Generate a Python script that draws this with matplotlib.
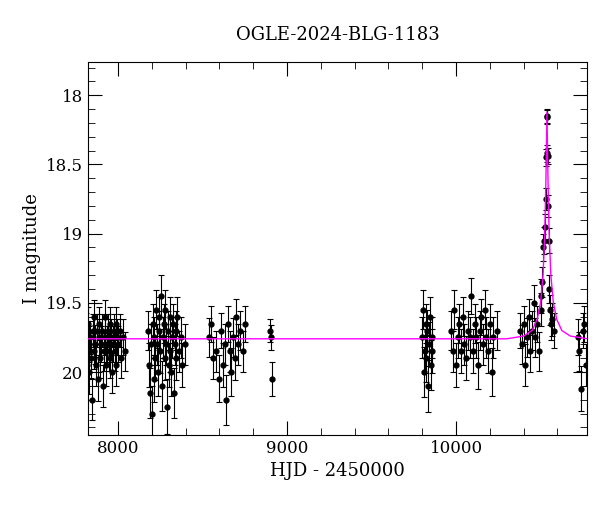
import matplotlib
matplotlib.use("Agg")
import matplotlib.pyplot as plt
from matplotlib.ticker import MultipleLocator

title = "OGLE-2024-BLG-1183"
xlabel = "HJD - 2450000"
ylabel = "I magnitude"

hjd = [7800,7805,7810,7815,7820,7825,7830,7835,7840,7845,7850,7855,7860,7865,7870,7875,7880,7885,7890,7895,7900,7905,7910,7915,7920,7925,7930,7935,7940,7945,7950,7955,7960,7965,7970,7975,7980,7985,7990,7995,8000,8010,8020,8030,8040,
       8180,8185,8190,8195,8200,8205,8210,8215,8220,8225,8230,8235,8240,8245,8250,8255,8260,8265,8270,8275,8280,8285,8290,8295,8300,8305,8310,8315,8320,8325,8330,8335,8340,8345,8350,8360,8370,8380,8395,
       8540,8550,8560,8580,8600,8610,8620,8630,8640,8650,8660,8670,8680,8690,8700,8710,8720,8740,8750,
       8900,8905,8910,
       9800,9805,9810,9815,9820,9825,9830,9835,9840,9845,9850,9855,9860,
       9970,9980,9990,10000,10010,10020,10030,10040,10050,10060,10070,10080,10090,10100,10110,10120,10130,10140,10150,10160,10170,10180,10190,10200,10210,10220,10240,
       10380,10390,10400,10410,10420,10430,10440,10450,10460,10470,10480,10490,10500,10505,10510,10515,10520,10525,10530,10534,10536,10538,10540,10542,10545,10548,10552,10556,10560,10570,10580,
       10720,10730,10740,10750,10760,10770]
mag = [19.75,19.85,19.70,19.95,19.65,19.80,20.00,19.75,19.90,20.20,19.70,19.85,19.60,19.80,19.95,19.70,20.05,19.75,19.65,19.90,19.80,19.70,20.10,19.85,19.75,19.60,19.95,19.80,19.70,19.85,19.65,19.90,19.75,20.00,19.80,19.70,19.85,19.65,19.95,19.75,19.80,19.70,19.90,19.75,19.85,
       19.70,19.95,20.15,19.80,20.30,19.65,20.05,19.75,19.90,19.55,19.80,20.00,19.70,19.60,19.85,19.45,20.10,19.75,19.65,19.90,19.55,19.80,20.25,19.70,19.95,19.60,19.85,20.00,19.75,19.65,20.15,19.80,19.70,19.90,19.60,19.85,19.75,19.95,19.80,
       19.75,19.65,19.90,19.85,20.05,19.70,19.95,19.80,20.20,19.65,19.85,20.00,19.75,19.90,19.60,19.80,19.70,19.85,19.65,
       19.70,19.75,20.05,
       19.75,19.55,20.00,19.85,19.65,19.90,19.70,20.10,19.80,19.60,19.95,19.75,19.85,
       19.70,19.85,19.55,19.95,19.75,19.65,19.85,19.60,19.80,19.90,19.70,19.75,19.45,19.85,19.65,19.75,19.95,19.70,19.60,19.80,19.55,19.75,19.85,19.65,20.00,19.75,19.70,
       19.70,19.80,19.65,19.95,19.75,19.60,19.85,19.70,19.50,19.75,19.65,19.85,19.55,19.45,19.35,19.10,19.05,18.95,18.75,18.45,18.15,18.16,18.42,18.44,18.80,19.05,19.40,19.55,19.65,19.62,19.70,
       19.75,19.85,20.12,19.70,19.65,19.95]
err = [0.12,0.14,0.13,0.15,0.12,0.13,0.16,0.12,0.14,0.15,0.12,0.13,0.12,0.14,0.15,0.12,0.16,0.13,0.12,0.14,0.13,0.12,0.15,0.14,0.13,0.12,0.15,0.13,0.12,0.14,0.12,0.14,0.13,0.15,0.13,0.12,0.14,0.12,0.15,0.13,0.13,0.12,0.14,0.13,0.14,
       0.14,0.16,0.18,0.15,0.20,0.14,0.17,0.15,0.16,0.14,0.15,0.17,0.14,0.14,0.16,0.15,0.18,0.15,0.14,0.16,0.14,0.15,0.20,0.14,0.16,0.14,0.15,0.17,0.15,0.14,0.18,0.15,0.14,0.16,0.14,0.15,0.15,0.16,0.15,
       0.14,0.13,0.15,0.15,0.17,0.13,0.16,0.15,0.18,0.13,0.15,0.17,0.14,0.16,0.13,0.15,0.14,0.15,0.13,
       0.08,0.09,0.12,
       0.15,0.14,0.18,0.16,0.14,0.17,0.15,0.19,0.16,0.14,0.18,0.15,0.16,
       0.14,0.15,0.14,0.16,0.15,0.14,0.16,0.14,0.15,0.16,0.14,0.15,0.13,0.16,0.14,0.15,0.17,0.14,0.13,0.15,0.14,0.15,0.16,0.14,0.17,0.15,0.14,
       0.13,0.14,0.13,0.15,0.14,0.13,0.15,0.14,0.13,0.14,0.13,0.14,0.12,0.12,0.11,0.10,0.10,0.09,0.08,0.06,0.05,0.05,0.06,0.06,0.08,0.09,0.10,0.11,0.12,0.12,0.13,
       0.13,0.14,0.16,0.13,0.13,0.15]

model_t = [7822,10300,10400,10450,10480,10500,10515,10525,10532,10538,10544,10551,10561,10576,10596,10626,10676,10780]
model_m = [19.76,19.76,19.74,19.70,19.62,19.50,19.30,19.00,18.60,18.12,18.60,19.00,19.30,19.50,19.62,19.70,19.74,19.76]

plt.rcParams["font.family"] = "DejaVu Serif"
fig = plt.figure(figsize=(6, 5.12), dpi=100)
ax = fig.add_axes([88/600, 1-435/512, (587-88)/600, (435-62)/512])
ax.errorbar(hjd, mag, yerr=err, fmt="o", color="black", ms=3.5, elinewidth=0.8,
            capsize=2.5, capthick=0.8, ecolor="black", zorder=2)
ax.plot(model_t, model_m, color="magenta", lw=1, zorder=3)
ax.set_xlim(7822, 10775)
ax.set_ylim(20.455, 17.76)
ax.xaxis.set_major_locator(MultipleLocator(1000))
ax.xaxis.set_minor_locator(MultipleLocator(200))
ax.yaxis.set_major_locator(MultipleLocator(0.5))
ax.yaxis.set_minor_locator(MultipleLocator(0.1))
ax.yaxis.set_major_formatter(matplotlib.ticker.FuncFormatter(lambda v, p: f"{v:g}"))
ax.tick_params(which="both", direction="in", top=True, right=True, labelsize=12)
ax.tick_params(which="major", length=10)
ax.tick_params(which="minor", length=5)
ax.set_xlabel(xlabel, fontsize=13)
ax.set_ylabel(ylabel, fontsize=13)
ax.set_title(title, fontsize=13, pad=16)
fig.savefig("out.png", dpi=100)
